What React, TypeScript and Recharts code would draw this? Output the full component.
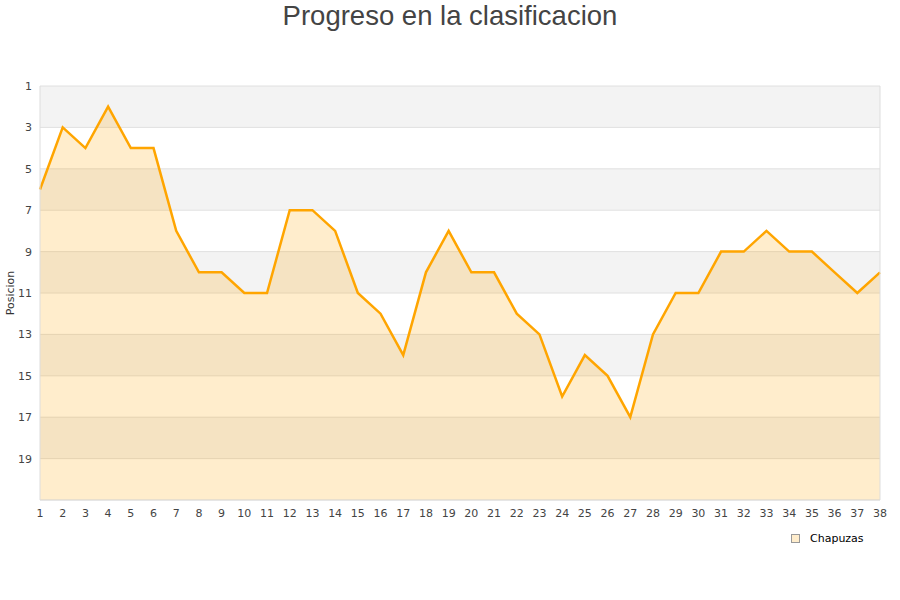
import React from "react"
import {
  AreaChart,
  Area,
  XAxis,
  YAxis,
  CartesianGrid,
  ReferenceLine,
} from "recharts"

// ── Data ──────────────────────────────────────────────────────
const jornadas = Array.from({ length: 38 }, (_, i) => i + 1)
const posiciones = [
  6, 3, 4, 2, 4, 4, 8, 10, 10, 11, 11, 7, 7, 8, 11, 12, 14, 10, 8, 10,
  10, 12, 13, 16, 14, 15, 17, 13, 11, 11, 9, 9, 8, 9, 9, 10, 11, 10,
]
const yTicks = [1, 3, 5, 7, 9, 11, 13, 15, 17, 19]

const data = jornadas.map((j, i) => ({ jornada: j, Chapuzas: posiciones[i] }))

const ORANGE = "#FFA500"
const BORDER = "#dddddd"
const TICK = { fontSize: 11, fill: "#444", fontFamily: "DejaVu Sans" }

export default function App() {
  return (
    <div style={{ position: "absolute", left: 0, top: 0, width: 900, height: 600, background: "#fff" }}>
      <div
        style={{
          position: "absolute",
          top: 0,
          left: 0,
          width: 900,
          textAlign: "center",
          fontFamily: "Liberation Sans, Arial, sans-serif",
          fontSize: 27.5,
          color: "#444",
          lineHeight: "32px",
        }}
      >
        Progreso en la clasificacion
      </div>

      <AreaChart
        width={900}
        height={600}
        data={data}
        margin={{ top: 86, right: 20, left: 0, bottom: 70 }}
      >
        <CartesianGrid
          vertical={false}
          stroke="#e0e0e0"
          horizontalFill={["#f3f3f3", "#ffffff"]}
          fillOpacity={1}
        />
        <XAxis
          dataKey="jornada"
          tick={TICK}
          tickLine={false}
          axisLine={{ stroke: BORDER }}
          interval={0}
          height={30}
          tickMargin={3}
        />
        <YAxis
          domain={[1, 21]}
          ticks={yTicks}
          reversed
          interval={0}
          tick={TICK}
          tickLine={false}
          axisLine={{ stroke: BORDER }}
          width={40}
          tickMargin={2}
          allowDataOverflow
          label={{
            value: "Posicion",
            angle: -90,
            position: "insideLeft",
            offset: 10,
            style: { textAnchor: "middle", fontSize: 11, fill: "#333", fontFamily: "DejaVu Sans" },
          }}
        />
        <ReferenceLine x={38} stroke={BORDER} />
        <Area
          type="linear"
          dataKey="Chapuzas"
          stroke={ORANGE}
          strokeWidth={2.5}
          fill={ORANGE}
          fillOpacity={0.2}
          baseValue={21}
          dot={false}
          activeDot={false}
          isAnimationActive={false}
        />
      </AreaChart>

      <div
        style={{
          position: "absolute",
          left: 791,
          top: 532,
          display: "flex",
          alignItems: "center",
          fontFamily: "DejaVu Sans",
          fontSize: 11,
          color: "#000",
        }}
      >
        <span
          style={{
            display: "inline-block",
            width: 7,
            height: 7,
            background: "#ffedcc",
            border: "1px solid #999",
            marginRight: 10,
          }}
        />
        Chapuzas
      </div>
    </div>
  )
}
